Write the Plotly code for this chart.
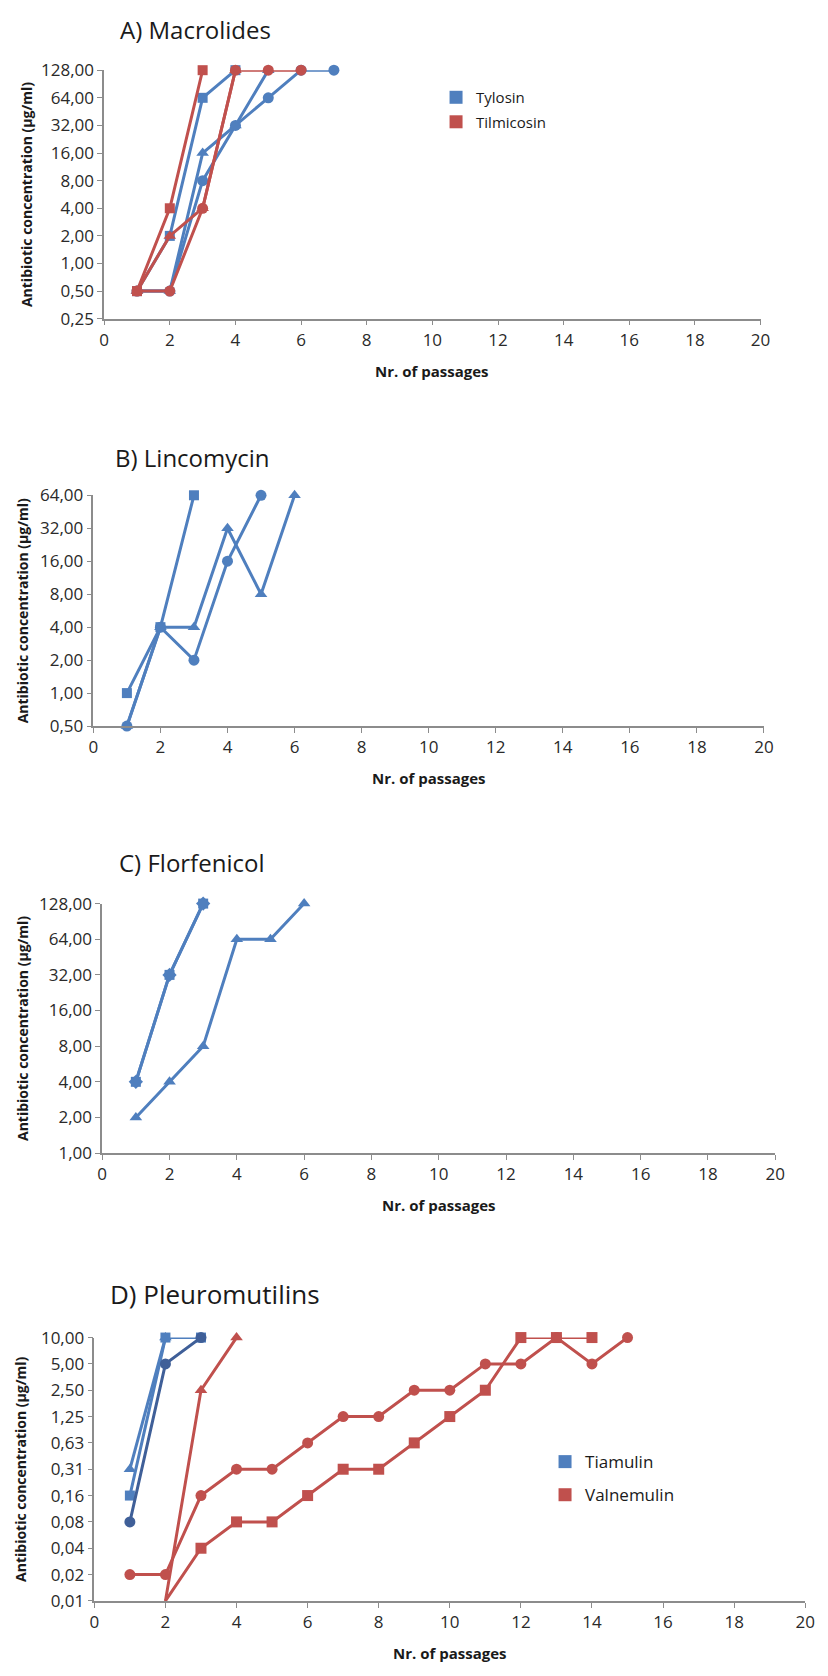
import plotly.graph_objects as go
import math

W, H = 828, 1676
BLUE = "#4F7FBE"
RED = "#C0504D"
DBLUE = "#3F5F98"
FONT = "Open Sans"

# ---------------- data ----------------
# Panel A: Macrolides
a_tylosin_sq_x = [1, 2, 3, 4]
a_tylosin_sq_y = [0.5, 2, 64, 128]
a_tylosin_ci_x = [1, 2, 3, 4, 5, 6, 7]
a_tylosin_ci_y = [0.5, 0.5, 8, 32, 64, 128, 128]
a_tylosin_tr_x = [1, 2, 3, 4, 5]
a_tylosin_tr_y = [0.5, 0.5, 16, 32, 128]
a_tilmi_sq_x = [1, 2, 3]
a_tilmi_sq_y = [0.5, 4, 128]
a_tilmi_tr_x = [1, 2, 3, 4]
a_tilmi_tr_y = [0.5, 2, 4, 128]
a_tilmi_ci_x = [1, 2, 3, 4, 5, 6]
a_tilmi_ci_y = [0.5, 0.5, 4, 128, 128, 128]
a_ticks = [0.25, 0.5, 1, 2, 4, 8, 16, 32, 64, 128]
a_ticktext = ["0,25", "0,50", "1,00", "2,00", "4,00", "8,00", "16,00", "32,00", "64,00", "128,00"]

# Panel B: Lincomycin
b_sq_x = [1, 2, 3]
b_sq_y = [1, 4, 64]
b_ci_x = [1, 2, 3, 4, 5]
b_ci_y = [0.5, 4, 2, 16, 64]
b_tr_x = [1, 2, 3, 4, 5, 6]
b_tr_y = [0.5, 4, 4, 32, 8, 64]
b_ticks = [0.5, 1, 2, 4, 8, 16, 32, 64]
b_ticktext = ["0,50", "1,00", "2,00", "4,00", "8,00", "16,00", "32,00", "64,00"]

# Panel C: Florfenicol
c_sq_x = [1, 2, 3]
c_sq_y = [4, 32, 128]
c_di_x = [1, 2, 3]
c_di_y = [4, 32, 128]
c_tr_x = [1, 2, 3, 4, 5, 6]
c_tr_y = [2, 4, 8, 64, 64, 128]
c_ticks = [1, 2, 4, 8, 16, 32, 64, 128]
c_ticktext = ["1,00", "2,00", "4,00", "8,00", "16,00", "32,00", "64,00", "128,00"]

# Panel D: Pleuromutilins
d_tia_sq_x = [1, 2, 3]
d_tia_sq_y = [0.15625, 10, 10]
d_tia_tr_x = [1, 2]
d_tia_tr_y = [0.3125, 10]
d_tia_ci_x = [1, 2, 3]
d_tia_ci_y = [0.078125, 5, 10]
d_val_tr_x = [2, 3, 4]
d_val_tr_y = [0.009765625, 2.5, 10]
d_val_ci_x = [1, 2, 3, 4, 5, 6, 7, 8, 9, 10, 11, 12, 13, 14, 15]
d_val_ci_y = [0.01953125, 0.01953125, 0.15625, 0.3125, 0.3125, 0.625, 1.25, 1.25,
              2.5, 2.5, 5, 5, 10, 5, 10]
d_val_sq_x = [2, 3, 4, 5, 6, 7, 8, 9, 10, 11, 12, 13, 14]
d_val_sq_y = [0.009765625, 0.0390625, 0.078125, 0.078125, 0.15625, 0.3125, 0.3125,
              0.625, 1.25, 2.5, 10, 10, 10]
d_ticks = [0.009765625, 0.01953125, 0.0390625, 0.078125, 0.15625, 0.3125, 0.625,
           1.25, 2.5, 5, 10]
d_ticktext = ["0,01", "0,02", "0,04", "0,08", "0,16", "0,31", "0,63", "1,25", "2,50",
              "5,00", "10,00"]

x_ticks = [0, 2, 4, 6, 8, 10, 12, 14, 16, 18, 20]

# ---------------- layout geometry (pixels) ----------------
panels = [
    dict(x0=101, x1=769.5, yt=59, yb=311, ticks=a_ticks, tt=a_ticktext,
         title="A) Macrolides", tx=194, ty=18, ytx=22, tsize=24),
    dict(x0=90, x1=773, yt=490, yb=724, ticks=b_ticks, tt=b_ticktext,
         title="B) Lincomycin", tx=191, ty=452, ytx=18, tsize=24),
    dict(x0=99, x1=784.5, yt=904, yb=1157, ticks=c_ticks, tt=c_ticktext,
         title="C) Florfenicol", tx=190, ty=862, ytx=18, tsize=24),
    dict(x0=91, x1=815, yt=1344, yb=1611, ticks=d_ticks, tt=d_ticktext,
         title="D) Pleuromutilins", tx=214, ty=1300, ytx=16, tsize=26),
]


def px_x(x):
    return x / W


def px_y(y):
    return 1 - y / H


fig = go.Figure()


def add_series(panel_idx, xs, ys, color, symbol, msize=10, lw=3, hide_floor=False):
    n = "" if panel_idx == 0 else str(panel_idx + 1)
    ymin = min(panels[panel_idx]["ticks"])
    if hide_floor:
        sizes = [0 if y <= ymin * 1.0001 else msize for y in ys]
    else:
        sizes = msize
    fig.add_trace(go.Scatter(
        x=xs, y=ys, mode="lines+markers",
        line=dict(color=color, width=lw),
        marker=dict(symbol=symbol, size=sizes, color=color, opacity=1,
                    line=dict(width=0)),
        cliponaxis=False, showlegend=False, hoverinfo="skip",
        xaxis="x" + n, yaxis="y" + n,
    ))


# Panel A
add_series(0, a_tylosin_ci_x, a_tylosin_ci_y, BLUE, "circle", 11)
add_series(0, a_tylosin_tr_x, a_tylosin_tr_y, BLUE, "triangle-up", 11)
add_series(0, a_tylosin_sq_x, a_tylosin_sq_y, BLUE, "square", 10)
add_series(0, a_tilmi_ci_x, a_tilmi_ci_y, RED, "circle", 11)
add_series(0, a_tilmi_tr_x, a_tilmi_tr_y, RED, "triangle-up", 11)
add_series(0, a_tilmi_sq_x, a_tilmi_sq_y, RED, "square", 10)

# Panel B
add_series(1, b_sq_x, b_sq_y, BLUE, "square", 10)
add_series(1, b_ci_x, b_ci_y, BLUE, "circle", 11)
add_series(1, b_tr_x, b_tr_y, BLUE, "triangle-up", 11)

# Panel C
add_series(2, c_tr_x, c_tr_y, BLUE, "triangle-up", 11)
add_series(2, c_sq_x, c_sq_y, BLUE, "square", 10)
add_series(2, c_di_x, c_di_y, BLUE, "diamond", 11)

# Panel D
add_series(3, d_tia_tr_x, d_tia_tr_y, BLUE, "triangle-up", 11)
add_series(3, d_tia_sq_x, d_tia_sq_y, BLUE, "square", 10)
add_series(3, d_tia_ci_x, d_tia_ci_y, DBLUE, "circle", 11)
add_series(3, d_val_tr_x, d_val_tr_y, RED, "triangle-up", 11, hide_floor=True)
add_series(3, d_val_ci_x, d_val_ci_y, RED, "circle", 11, hide_floor=True)
add_series(3, d_val_sq_x, d_val_sq_y, RED, "square", 11, hide_floor=True)

# Legend entries
legend_entries = [("Tylosin", BLUE, "legend", ""), ("Tilmicosin", RED, "legend", ""),
                  ("Tiamulin", BLUE, "legend2", "4"), ("Valnemulin", RED, "legend2", "4")]
for i, (name, col, lg, n) in enumerate(legend_entries):
    fig.add_trace(go.Scatter(
        x=[None], y=[None], mode="markers", name=name,
        marker=dict(symbol="square", size=13, color=col),
        showlegend=True, legend=lg, legendgroup="g%d" % i,
        xaxis="x" + n, yaxis="y" + n,
    ))

AXIS_COL = "#8c8c8c"
TICK_FONT = dict(family=FONT, size=17, color="#2a2a2a")
annotations = []
layout = {}
for i, p in enumerate(panels):
    n = "" if i == 0 else str(i + 1)
    layout["xaxis" + n] = dict(
        domain=[px_x(p["x0"]), px_x(p["x1"])], range=[0, 20],
        anchor="y" + n, tickvals=x_ticks, ticks="outside", ticklen=5,
        tickcolor=AXIS_COL, showline=True, linecolor=AXIS_COL, linewidth=1.5,
        showgrid=False, zeroline=False, tickfont=TICK_FONT, fixedrange=True,
    )
    lo, hi = min(p["ticks"]), max(p["ticks"])
    layout["yaxis" + n] = dict(
        domain=[px_y(p["yb"]), px_y(p["yt"])], type="log",
        range=[math.log10(lo), math.log10(hi)], anchor="x" + n,
        tickvals=p["ticks"], ticktext=p["tt"], ticks="outside", ticklen=5,
        tickcolor=AXIS_COL, showline=True, linecolor=AXIS_COL, linewidth=1.5,
        showgrid=False, zeroline=False, tickfont=TICK_FONT, fixedrange=True,
    )
    annotations.append(dict(
        text=p["title"], x=px_x(p["tx"]), y=px_y(p["ty"]), xref="paper", yref="paper",
        xanchor="center", yanchor="middle", showarrow=False,
        font=dict(family=FONT, size=p["tsize"], color="#1a1a1a"),
    ))
    annotations.append(dict(
        text="<b>Antibiotic concentration (µg/ml)</b>", x=px_x(p["ytx"]),
        y=px_y((p["yt"] + p["yb"]) / 2), xref="paper", yref="paper",
        xanchor="center", yanchor="middle", textangle=-90, showarrow=False,
        font=dict(family=FONT, size=14, color="#1a1a1a"),
    ))
    annotations.append(dict(
        text="<b>Nr. of passages</b>", x=px_x((p["x0"] + p["x1"]) / 2),
        y=px_y(p["yb"] + 53), xref="paper", yref="paper",
        xanchor="center", yanchor="middle", showarrow=False,
        font=dict(family=FONT, size=15, color="#1a1a1a"),
    ))

fig.update_layout(
    width=W, height=H, margin=dict(l=0, r=0, t=0, b=0),
    paper_bgcolor="white", plot_bgcolor="white",
    annotations=annotations,
    legend=dict(x=px_x(439), y=px_y(70), xanchor="left", yanchor="top",
                font=dict(family=FONT, size=15, color="#1a1a1a"),
                bgcolor="rgba(0,0,0,0)", tracegroupgap=2, traceorder="grouped",
                itemclick=False),
    legend2=dict(x=px_x(550), y=px_y(1452), xanchor="left", yanchor="top",
                 font=dict(family=FONT, size=17, color="#1a1a1a"),
                 bgcolor="rgba(0,0,0,0)", tracegroupgap=8, traceorder="grouped",
                 itemclick=False),
    **layout,
)

fig.write_html("out.html")
